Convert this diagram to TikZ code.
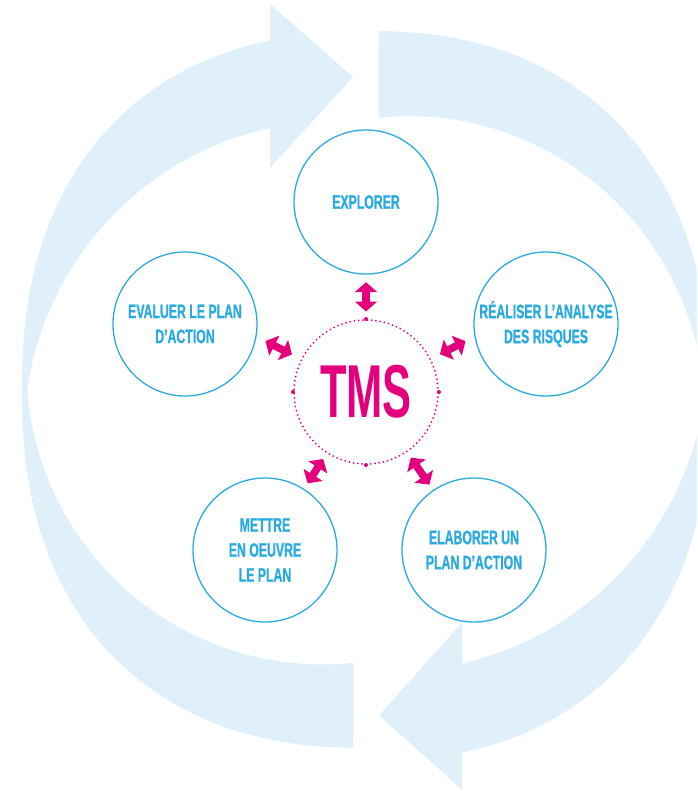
\documentclass[tikz,border=0pt]{standalone}
\usepackage{fontspec}
\usetikzlibrary{arrows.meta}
\definecolor{tmsblue}{RGB}{41,170,225}
\definecolor{tmspink}{RGB}{228,0,125}
\definecolor{ringblue}{RGB}{223,240,251}
\newfontfamily\stagefont[FakeStretch=0.63,FakeBold=0.8]{Liberation Sans}
\newfontfamily\tmsfont[FakeStretch=0.58]{Liberation Sans}
\tikzset{
  stage/.style={circle, draw=tmsblue, line width=1.3pt, fill=white, minimum size=144pt,
    inner sep=0pt, align=center, text=tmsblue, font=\stagefont\bfseries\fontsize{19.5}{25}\selectfont},
  hub/.style={circle, draw=tmspink, line width=2pt, dash pattern=on 0pt off 4.3pt,
    line cap=round, minimum size=144pt, inner sep=0pt, text=tmspink,
    font=\tmsfont\bfseries\fontsize{75}{75}\selectfont},
  link/.style={tmspink, line width=7.5pt, {Triangle[width=22pt,length=10pt]}-{Triangle[width=22pt,length=10pt]},
    shorten >=7.5pt, shorten <=7.5pt}
}
\begin{document}
\begin{tikzpicture}[x=1pt,y=-1pt]
    \useasboundingbox (0,0) rectangle (697,791);
    \clip (0,0) rectangle (697,791);
    % --- CYCLE ARROWS (BACKGROUND) ---
    \def\ringarrow{(270,128) arc[start angle=257.6, end angle=188.1, radius=313]
      arc[start angle=175.9, end angle=84, radius=296]
      -- plot[domain=91.3:256.7, samples=61, variable=\t]
        ({366+344*sign(cos(\t))*(abs(cos(\t))+0.00001)^0.8696},
         {390+358*sign(sin(\t))*(abs(sin(\t))+0.00001)^0.8696})
      -- (270,4) -- (353,77) -- (270,168) -- cycle}
    \fill[ringblue] \ringarrow;
    \fill[ringblue, shift={(366,393)}, yscale=1.02, rotate=180, shift={(-366,-393)}] \ringarrow;

    % --- STAGES ---
    \node[hub] (tms) at (366,392) {TMS};
    \foreach \a in {north,south,east,west}
      \fill[tmspink] (tms.\a) circle (2pt);
    \node[stage] (explorer) at (366,202) {EXPLORER};
    \node[stage] (evaluer) at (185,324) {EVALUER LE PLAN\\D’ACTION};
    \node[stage] (realiser) at (546,324) {RÉALISER L’ANALYSE\\DES RISQUES};
    \node[stage] (mettre) at (265,550) {METTRE\\EN OEUVRE\\LE PLAN};
    \node[stage] (elaborer) at (474,550) {ELABORER UN\\PLAN D’ACTION};

    % --- LINKS ---
    \draw[link] (tms) -- (explorer);
    \draw[link, shorten >=10pt, shorten <=10pt] (tms) -- (evaluer.-10);
    \draw[link, shorten >=10pt, shorten <=10pt] (tms) -- (realiser.190);
    \draw[link, shorten >=6.5pt, shorten <=6.5pt] (tms) -- (mettre);
    \draw[link, shorten >=6.5pt, shorten <=6.5pt] (tms) -- (elaborer);
\end{tikzpicture}
\end{document}
